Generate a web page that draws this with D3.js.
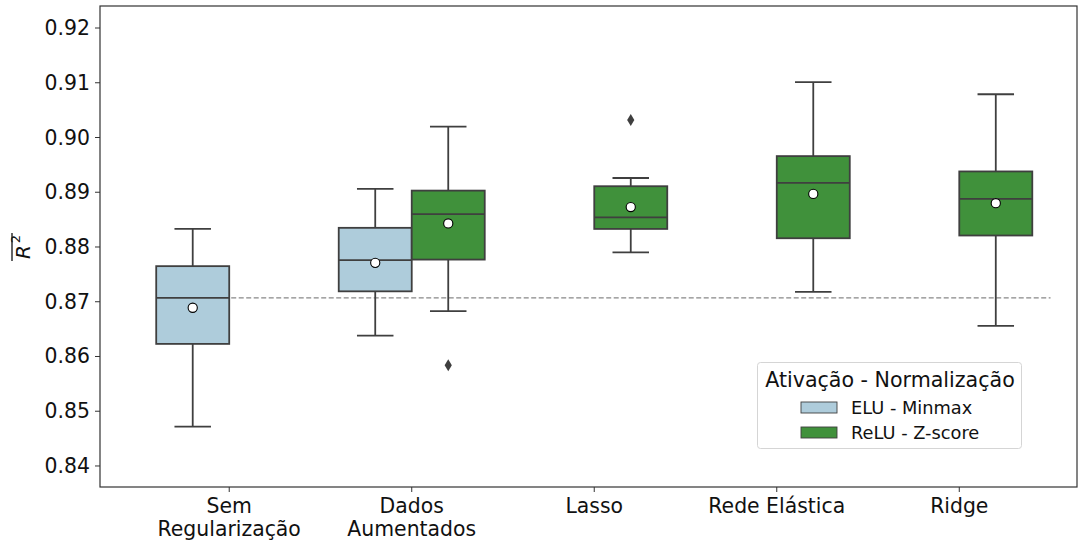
<!DOCTYPE html>
<html>
<head>
<meta charset="utf-8">
<script src="https://cdn.jsdelivr.net/npm/d3@7"></script>
<style>
  html, body { margin: 0; padding: 0; background: #fff; }
  svg { display: block; font-family: "DejaVu Sans", sans-serif; }
</style>
</head>
<body>
<svg id="chart" width="1078" height="544"></svg>
<script>
"use strict";

/* ── Data ──────────────────────────────────────────────────── */
const categories = [
  ["Sem", "Regularização"],
  ["Dados", "Aumentados"],
  ["Lasso"],
  ["Rede Elástica"],
  ["Ridge"]
];
const seriesNames = ["ELU - Minmax", "ReLU - Z-score"];

// [whiskerLow, q1, median, q3, whiskerHigh]
const eluBoxes = [
  [0.8472, 0.8623, 0.8707, 0.8765, 0.8833],
  [0.8638, 0.8719, 0.8776, 0.8835, 0.8906],
  null, null, null
];
const reluBoxes = [
  null,
  [0.8683, 0.8777, 0.8860, 0.8903, 0.9020],
  [0.8790, 0.8833, 0.8854, 0.8911, 0.8926],
  [0.8718, 0.8816, 0.8917, 0.8966, 0.9101],
  [0.8656, 0.8821, 0.8888, 0.8938, 0.9079]
];
const eluMeans  = [0.8689, 0.8771, null, null, null];
const reluMeans = [null, 0.8843, 0.8873, 0.8897, 0.8880];
const eluOutliers  = [[], [], [], [], []];
const reluOutliers = [[], [0.8584], [0.9032], [], []];

const baseline = 0.8707;   // dashed reference line
const yTicks = [0.84, 0.85, 0.86, 0.87, 0.88, 0.89, 0.90, 0.91, 0.92];

/* ── Layout ────────────────────────────────────────────────── */
const PLOT = { left: 100, right: 1077, top: 6, bottom: 487 };
const COLORS = ["#aeccdb", "#40913b"];
const LINE = "#3f3f3f";
const HUE_W = 0.4;

const svg = d3.select("#chart");

const x = d3.scaleLinear().domain([-0.708, 4.645]).range([PLOT.left, PLOT.right]);
const y = d3.scaleLinear().domain([0.83616, 0.92402]).range([PLOT.bottom, PLOT.top]);

/* dashed reference line (behind boxes) */
svg.append("line")
  .attr("x1", x(-0.4)).attr("x2", x(4.5))
  .attr("y1", y(baseline)).attr("y2", y(baseline))
  .attr("stroke", "#888").attr("stroke-width", 1.3)
  .attr("stroke-dasharray", "5,2.5");

/* ── Boxes ─────────────────────────────────────────────────── */
const series = [
  { boxes: eluBoxes,  means: eluMeans,  outliers: eluOutliers,  off: -0.2, color: COLORS[0] },
  { boxes: reluBoxes, means: reluMeans, outliers: reluOutliers, off:  0.2, color: COLORS[1] }
];

const gBoxes = svg.append("g");
series.forEach((s) => {
  s.boxes.forEach((b, i) => {
    if (!b) return;
    const cx = x(i + s.off);
    const half = (x(HUE_W) - x(0)) / 2;
    const cap = half / 2;
    const g = gBoxes.append("g");

    // whiskers
    g.append("line").attr("x1", cx).attr("x2", cx)
      .attr("y1", y(b[0])).attr("y2", y(b[1]))
      .attr("stroke", LINE).attr("stroke-width", 1.8);
    g.append("line").attr("x1", cx).attr("x2", cx)
      .attr("y1", y(b[3])).attr("y2", y(b[4]))
      .attr("stroke", LINE).attr("stroke-width", 1.8);
    [b[0], b[4]].forEach((v) => {
      g.append("line").attr("x1", cx - cap).attr("x2", cx + cap)
        .attr("y1", y(v)).attr("y2", y(v))
        .attr("stroke", LINE).attr("stroke-width", 1.8);
    });

    // box
    g.append("rect")
      .attr("x", cx - half).attr("width", half * 2)
      .attr("y", y(b[3])).attr("height", y(b[1]) - y(b[3]))
      .attr("fill", s.color).attr("stroke", LINE).attr("stroke-width", 1.8);

    // median
    g.append("line").attr("x1", cx - half).attr("x2", cx + half)
      .attr("y1", y(b[2])).attr("y2", y(b[2]))
      .attr("stroke", LINE).attr("stroke-width", 1.8);

    // mean
    if (s.means[i] != null) {
      g.append("circle").attr("cx", cx).attr("cy", y(s.means[i])).attr("r", 4.6)
        .attr("fill", "#fff").attr("stroke", "#000").attr("stroke-width", 1.1);
    }

    // outliers (thin diamonds)
    s.outliers[i].forEach((v) => {
      const py = y(v);
      g.append("path")
        .attr("d", `M${cx},${py - 6} L${cx + 3.6},${py} L${cx},${py + 6} L${cx - 3.6},${py} Z`)
        .attr("fill", LINE);
    });
  });
});

/* ── Axes ──────────────────────────────────────────────────── */
const yAxis = svg.append("g");
yTicks.forEach((t) => {
  yAxis.append("line")
    .attr("x1", PLOT.left - 5).attr("x2", PLOT.left)
    .attr("y1", y(t)).attr("y2", y(t))
    .attr("stroke", "#333").attr("stroke-width", 1);
  yAxis.append("text")
    .attr("x", PLOT.left - 10).attr("y", y(t) + 7)
    .attr("text-anchor", "end").attr("font-size", 20.4).attr("fill", "#111")
    .text(t.toFixed(2));
});

const xAxis = svg.append("g");
categories.forEach((lines, i) => {
  xAxis.append("line")
    .attr("x1", x(i)).attr("x2", x(i))
    .attr("y1", PLOT.bottom).attr("y2", PLOT.bottom + 5)
    .attr("stroke", "#333").attr("stroke-width", 1);
  const t = xAxis.append("text")
    .attr("text-anchor", "middle").attr("font-size", 20.4).attr("fill", "#111");
  lines.forEach((ln, k) => {
    t.append("tspan").attr("x", x(i)).attr("y", 513 + k * 23).text(ln);
  });
});

/* frame */
svg.append("rect")
  .attr("x", PLOT.left).attr("y", PLOT.top)
  .attr("width", PLOT.right - PLOT.left).attr("height", PLOT.bottom - PLOT.top)
  .attr("fill", "none").attr("stroke", "#333").attr("stroke-width", 1.2);

/* y label: overline R^2 */
const yl = svg.append("g").attr("transform", "translate(30,247) rotate(-90)");
const ylt = yl.append("text").attr("text-anchor", "middle").attr("fill", "#111");
ylt.append("tspan").attr("font-size", 20).attr("font-style", "italic").text("R");
ylt.append("tspan").attr("font-size", 13).attr("dx", 2).attr("dy", -10).text("2");
yl.append("line")
  .attr("x1", -14).attr("x2", 14).attr("y1", -18).attr("y2", -18)
  .attr("stroke", "#111").attr("stroke-width", 1.3);

/* ── Legend ────────────────────────────────────────────────── */
const lg = svg.append("g");
lg.append("rect")
  .attr("x", 757.5).attr("y", 362.5).attr("width", 264).attr("height", 86)
  .attr("rx", 3).attr("fill", "#fff").attr("fill-opacity", 0.85)
  .attr("stroke", "#d5d5d5").attr("stroke-width", 1);
lg.append("text")
  .attr("x", 890).attr("y", 387).attr("text-anchor", "middle")
  .attr("font-size", 20.6).attr("fill", "#111")
  .text("Ativação - Normalização");
seriesNames.forEach((name, k) => {
  const yy = 402 + k * 25;
  lg.append("rect")
    .attr("x", 801).attr("y", yy).attr("width", 36).attr("height", 11)
    .attr("fill", COLORS[k]).attr("stroke", LINE).attr("stroke-width", 0.9);
  lg.append("text")
    .attr("x", 851).attr("y", yy + 11.5)
    .attr("font-size", 17.8).attr("fill", "#111")
    .text(name);
});
</script>
</body>
</html>
